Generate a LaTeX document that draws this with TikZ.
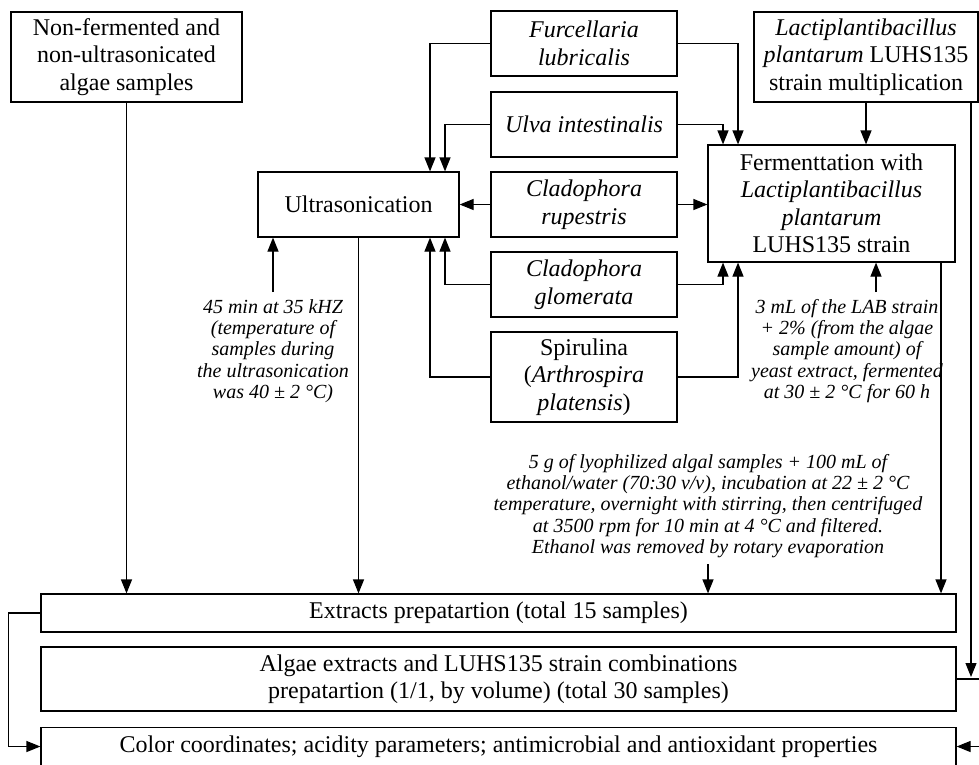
\documentclass[tikz,border=0pt]{standalone}
\usepackage{fontspec}
\setmainfont{Liberation Serif}
\usetikzlibrary{arrows.meta}
\begin{document}
\begin{tikzpicture}[x=1pt,y=-1pt,
  box/.style={draw, line width=1.2pt, align=center, inner sep=0pt, font=\fontsize{24}{27.5}\selectfont},
  sbox/.style={box, minimum width=186pt, minimum height=65pt},
  wbox/.style={box, minimum width=915pt},
  note/.style={align=center, inner sep=0pt, font=\fontsize{20}{21.3}\selectfont\itshape},
  conn/.style={line width=1.2pt},
  arr/.style={conn, -{Triangle[length=14pt,width=11pt]}}]
\useasboundingbox (0,0) rectangle (979,764);
% boxes
\node[box, minimum width=231pt, minimum height=90pt] (nf) at (126.5,57) {Non-fermented and\\non-ultrasonicated\\algae samples};
\node[box, minimum width=201pt, minimum height=65pt] (us) at (358.5,204.5) {Ultrasonication};
\node[sbox] (fu) at (584,43.5) {\textit{Furcellaria}\\\textit{lubricalis}};
\node[sbox] (ul) at (584,124.5) {\textit{Ulva intestinalis}};
\node[sbox] (cr) at (584,204.5) {\textit{Cladophora}\\\textit{rupestris}};
\node[sbox] (cg) at (584,284.5) {\textit{Cladophora}\\\textit{glomerata}};
\node[sbox, minimum height=90pt] (sp) at (584,377) {Spirulina\\(\textit{Arthrospira}\\\textit{platensis})};
\node[box, minimum width=224pt, minimum height=90pt] (la) at (866,57) {\textit{Lactiplantibacillus}\\\textit{plantarum} LUHS135\\strain multiplication};
\node[box, minimum width=247pt, minimum height=117pt] (fe) at (831.5,203.5) {Fermenttation with\\\textit{Lactiplantibacillus}\\\textit{plantarum}\\LUHS135 strain};
\node[wbox, minimum height=38pt] (ex) at (498.5,613) {Extracts prepatartion (total 15 samples)};
\node[wbox, minimum height=64pt] (al) at (498.5,679) {Algae extracts and LUHS135 strain combinations\\prepatartion (1/1, by volume) (total 30 samples)};
\node[wbox, minimum height=38pt] (co) at (498.5,746.5) {Color coordinates; acidity parameters; antimicrobial and antioxidant properties};
% notes
\node[note] (t45) at (273,351) {45 min at 35 kHZ\\(temperature of\\samples during\\the ultrasonication\\was 40 ± 2 °C)};
\node[note] (t3) at (847,351) {3 mL of the LAB strain\\+ 2\% (from the algae\\sample amount) of\\yeast extract, fermented\\at 30 ± 2 °C for 60 h};
\node[note] (t5) at (708,506) {5 g of lyophilized algal samples + 100 mL of\\ethanol/water (70:30 v/v), incubation at 22 ± 2 °C\\temperature, overnight with stirring, then centrifuged\\at 3500 rpm for 10 min at 4 °C and filtered.\\Ethanol was removed by rotary evaporation};
% helper coordinates
\coordinate (ua) at (430,0);
\coordinate (ub) at (445,0);
\coordinate (fa) at (723,0);
\coordinate (fb) at (738,0);
\coordinate (fx) at (941,0);
\coordinate (t45a) at (273,292);
\coordinate (t3a) at (876,292);
\coordinate (t5a) at (708,564);
\coordinate (rj) at (971,677);
\coordinate (re) at (979,680);
% connectors to ultrasonication
\draw[arr] (fu.west) -| (us.north -| ua);
\draw[arr] (ul.west) -| (us.north -| ub);
\draw[arr] (cr.west) -- (us.east);
\draw[arr] (cg.west) -| (us.south -| ub);
\draw[arr] (sp.west) -| (us.south -| ua);
% connectors to fermentation
\draw[arr] (fu.east) -| (fe.north -| fb);
\draw[arr] (ul.east) -| (fe.north -| fa);
\draw[arr] (cr.east) -- (cr.east -| fe.west);
\draw[arr] (cg.east) -| (fe.south -| fa);
\draw[arr] (sp.east) -| (fe.south -| fb);
\draw[arr] (la.south) -- (la.south |- fe.north);
% notes arrows
\draw[arr] (t45a) -- (t45a |- us.south);
\draw[arr] (t3a) -- (t3a |- fe.south);
\draw[arr] (t5a) -- (t5a |- ex.north);
% to extracts
\draw[arr] (nf.south) -- (nf.south |- ex.north);
\draw[arr] (us.south) -- (us.south |- ex.north);
\draw[arr] (fe.south -| fx) -- (fx |- ex.north);
% left loop
\draw[arr] (ex.west) -- ++(-32,0) |- (co.west);
% right side
\draw[arr] (la.south -| rj) -- (rj);
\draw[conn] (al.east) -- (al.east -| re);
\draw[arr] (co.east -| re) -- (co.east);
\end{tikzpicture}
\end{document}
